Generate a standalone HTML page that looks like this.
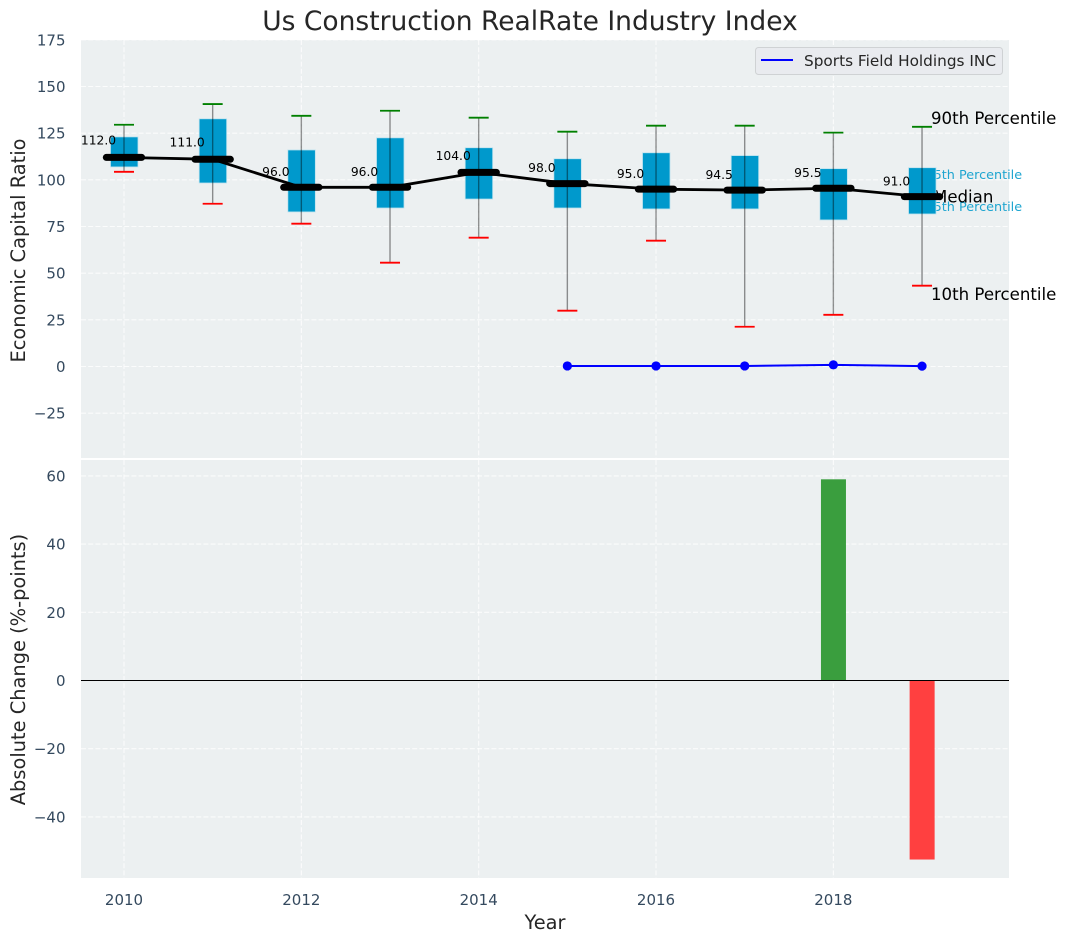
<!DOCTYPE html>
<html>
<head>
<meta charset="utf-8">
<title>Us Construction RealRate Industry Index</title>
<style>
html,body{margin:0;padding:0;background:#fff;width:1066px;height:942px;overflow:hidden}
svg{display:block;font-family:"DejaVu Sans","Liberation Sans",sans-serif}
</style>
</head>
<body>
<svg id="chart" xmlns="http://www.w3.org/2000/svg" width="1066" height="942" viewBox="0 0 1066 942">
  <rect x="81" y="40" width="928" height="418" fill="#ecf0f1"/>
  <rect x="81" y="460" width="928" height="418" fill="#ecf0f1"/>
  <g id="grid"></g>
  <g id="ticks"></g>
  <text x="530" y="30" font-size="26.5" text-anchor="middle" fill="#262626">Us Construction RealRate Industry Index</text>
  <text transform="translate(25,250.5) rotate(-90)" font-size="19.4" text-anchor="middle" fill="#262626">Economic Capital Ratio</text>
  <text transform="translate(25,669.5) rotate(-90)" font-size="19.4" text-anchor="middle" fill="#262626">Absolute Change (%-points)</text>
  <text x="545" y="929" font-size="19.4" text-anchor="middle" fill="#262626">Year</text>
  <g id="annotations">
    <text x="931" y="124" font-size="16.6" fill="#000">90th Percentile</text>
    <text x="925.5" y="179" font-size="12.8" fill="#1ea5d0">75th Percentile</text>
    <text x="925.5" y="211" font-size="12.8" fill="#1ea5d0">25th Percentile</text>
    <text x="933" y="202.5" font-size="16.6" fill="#000">Median</text>
    <text x="931" y="300" font-size="16.6" fill="#000">10th Percentile</text>
  </g>
  <g id="marks"></g>
  <g>
    <rect x="755.5" y="47.5" width="247" height="27" rx="3" fill="#e9ebef" stroke="#cfd2d4" stroke-width="1"/>
    <line x1="761" x2="793" y1="60" y2="60" stroke="#0000ff" stroke-width="2"/>
    <text x="804" y="66" font-size="15.3" fill="#262626">Sports Field Holdings INC</text>
  </g>
</svg>
<script>
const years = [2010,2011,2012,2013,2014,2015,2016,2017,2018,2019];
const p90 = [129.5,140.6,134.3,137,133.3,125.8,129,129,125.3,128.4];
const p75 = [123,132.7,116,122.5,117.2,111.3,114.5,113,106,106.5];
const median = [112,111,96,96,104,98,95,94.5,95.5,91];
const p25 = [106.9,98.3,82.8,84.9,89.7,84.9,84.4,84.4,78.5,81.7];
const p10 = [104.3,87.2,76.5,55.6,69,29.9,67.4,21.3,27.7,43.3];
const companyYears = [2015,2016,2017,2018,2019];
const companyValues = [0.3,0.3,0.3,0.9,0.2];
const changeYears = [2018,2019];
const changeValues = [59,-52.5];
const xTickLabels = [2010,2012,2014,2016,2018];
const topTickLabels = [175,150,125,100,75,50,25,0,-25];
const bottomTickLabels = [60,40,20,0,-20,-40];

const NS = 'http://www.w3.org/2000/svg';
const xScale = v => 124 + (v - 2010) * 88.67;
const yTop = v => 366.5 - v * 1.8667;
const yBottom = v => 680.5 - v * 3.41;
const fmtTick = v => (v < 0 ? '\u2212' + Math.abs(v) : String(v));

function mk(parent, tag, attrs) {
  const el = document.createElementNS(NS, tag);
  for (const k in attrs) el.setAttribute(k, attrs[k]);
  parent.appendChild(el);
  return el;
}

const grid = document.getElementById('grid');
const ticks = document.getElementById('ticks');
const marks = document.getElementById('marks');
const dashed = {stroke:'#ffffff','stroke-width':1.1,'stroke-dasharray':'5 2.2','stroke-opacity':0.8};

xTickLabels.forEach(v => {
  const a = mk(grid, 'line', Object.assign({x1:xScale(v),x2:xScale(v),y1:40,y2:458}, dashed));
  
  
  const b = mk(grid, 'line', Object.assign({x1:xScale(v),x2:xScale(v),y1:460,y2:878}, dashed));
  
  
  const t = mk(ticks, 'text', {x:xScale(v),y:905,'font-size':15,'text-anchor':'middle',fill:'#34495e'});
  t.textContent = v;
  
  
});
topTickLabels.forEach(v => {
  const a = mk(grid, 'line', Object.assign({x1:81,x2:1009,y1:yTop(v),y2:yTop(v)}, dashed));
  
  
  const t = mk(ticks, 'text', {x:65.5,y:yTop(v)+5.5,'font-size':15,'text-anchor':'end',fill:'#34495e'});
  t.textContent = fmtTick(v);
  
  
});
bottomTickLabels.forEach(v => {
  const a = mk(grid, 'line', Object.assign({x1:81,x2:1009,y1:yBottom(v),y2:yBottom(v)}, dashed));
  
  
  const t = mk(ticks, 'text', {x:65.5,y:yBottom(v)+5.5,'font-size':15,'text-anchor':'end',fill:'#34495e'});
  t.textContent = fmtTick(v);
  
  
});

years.forEach((yr, i) => {
  const x = xScale(yr);
  const box = mk(marks, 'rect', {x:x-13.5,y:yTop(p75[i]),width:27.5,height:yTop(p25[i])-yTop(p75[i]),fill:'#0099cc',stroke:'#bfe3ee','stroke-width':0.8});
  
  
  const w = mk(marks, 'line', {x1:x,x2:x,y1:yTop(p90[i]),y2:yTop(p10[i]),stroke:'#000','stroke-opacity':0.42,'stroke-width':1.4});
  
  
  const c1 = mk(marks, 'line', {x1:x-10,x2:x+10,y1:yTop(p90[i]),y2:yTop(p90[i]),stroke:'#008000','stroke-width':1.8});
  
  
  const c2 = mk(marks, 'line', {x1:x-10,x2:x+10,y1:yTop(p10[i]),y2:yTop(p10[i]),stroke:'#ff0000','stroke-width':1.8});
  
  
});

const medianLine = mk(marks, 'polyline', {points:years.map((yr,i)=>xScale(yr)+','+yTop(median[i])).join(' '),fill:'none',stroke:'#000','stroke-width':2.8});



years.forEach((yr, i) => {
  const x = xScale(yr);
  const m = mk(marks, 'line', {x1:x-17.7,x2:x+17.7,y1:yTop(median[i]),y2:yTop(median[i]),stroke:'#000','stroke-width':7,'stroke-linecap':'round'});
  
  
  const t = mk(marks, 'text', {x:x-25.5,y:yTop(median[i]*1.05)-2.5,'font-size':12.3,'text-anchor':'middle',fill:'#000'});
  t.textContent = median[i].toFixed(1);
  
  
});

const companyLine = mk(marks, 'polyline', {points:companyYears.map((yr,i)=>xScale(yr)+','+yTop(companyValues[i])).join(' '),fill:'none',stroke:'#0000ff','stroke-width':2});


companyYears.forEach((yr, i) => {
  const d = mk(marks, 'circle', {cx:xScale(yr),cy:yTop(companyValues[i]),r:4.6,fill:'#0000ff'});
  
  
});

changeYears.forEach((yr, i) => {
  const v = changeValues[i];
  const r = mk(marks, 'rect', {x:xScale(yr)-12.4,y:Math.min(yBottom(v),yBottom(0)),width:25,height:Math.abs(yBottom(v)-yBottom(0)),fill:v>=0?'#3a9e3e':'#ff4040'});
  
  
});

const zero = mk(marks, 'line', {x1:81,x2:1009,y1:yBottom(0),y2:yBottom(0),stroke:'#000','stroke-width':1.1});


</script>
</body>
</html>
